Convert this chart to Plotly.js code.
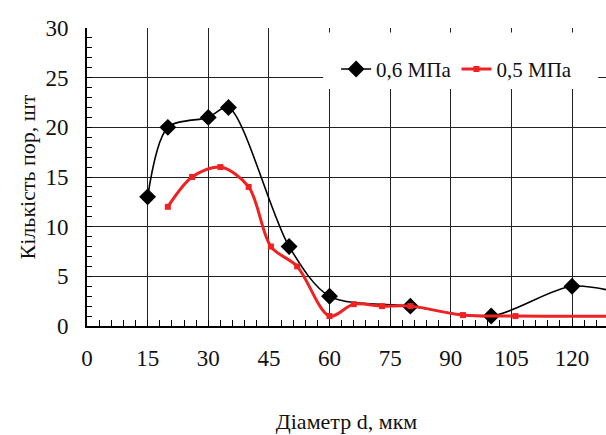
<!DOCTYPE html>
<html><head><meta charset="utf-8">
<script src="https://cdn.plot.ly/plotly-3.0.1.min.js"></script>
<style>html,body{margin:0;padding:0;background:#fff}#c{width:606px;height:435px}</style>
</head><body><div id="c"></div>
<script>
const x06 = [15, 20, 30, 35, 50, 60, 80, 100, 120, 135];
const y06 = [13, 20, 21, 22, 8, 3, 2, 1, 4, 3];
const x05 = [20, 26, 33, 40, 45.5, 52, 60, 66, 73, 80, 93, 106, 135];
const y05 = [12, 15, 16, 14, 8, 6, 1, 2.2, 2, 2, 1.1, 1, 1];
const name06 = '0,6 МПа';
const name05 = '0,5 МПа';
const xTicks = [0, 15, 30, 45, 60, 75, 90, 105, 120];
const yTicks = [0, 5, 10, 15, 20, 25, 30];

const font = 'Liberation Serif';
const xRange = [0, 128.4];
const yRange = [0, 30];
const traces = [
  {x: x06, y: y06, name: name06, type: 'scatter', mode: 'lines+markers',
   line: {color: '#000', width: 1.6, shape: 'spline', smoothing: 0.85},
   marker: {symbol: 'diamond', size: 13, color: '#000'}},
  {x: x05, y: y05, name: name05, type: 'scatter', mode: 'lines+markers',
   line: {color: '#ee2222', width: 3, shape: 'spline', smoothing: 0.9},
   marker: {symbol: 'square', size: 6, color: '#ee2222'}},
  {x: [], y: [], xaxis: 'x2', yaxis: 'y2', showlegend: false, hoverinfo: 'skip', type: 'scatter'}
];
const layout = {
  width: 606, height: 435,
  margin: {l: 87, r: 0, t: 28, b: 109},
  paper_bgcolor: '#fff', plot_bgcolor: '#fff',
  font: {family: font, color: '#111', size: 21},
  showlegend: true,
  legend: {orientation: 'h', x: 0.48, xanchor: 'left', y: 0.93, yanchor: 'top',
           bgcolor: 'rgba(0,0,0,0)', font: {family: font, size: 21, color: '#111'},
           traceorder: 'normal'},
  shapes: [{type: 'rect', xref: 'paper', yref: 'paper', x0: 0.455, x1: 0.985, y0: 0.795, y1: 0.985,
            fillcolor: '#fff', line: {width: 0}, layer: 'above'}],
  xaxis: {range: xRange, tickmode: 'array', tickvals: xTicks, ticktext: xTicks.map(String),
          showgrid: true, gridcolor: '#222', gridwidth: 1,
          showline: true, linecolor: '#000', linewidth: 2,
          ticks: 'outside', ticklen: 10, tickcolor: 'rgba(0,0,0,0)', zeroline: false,
          tickfont: {family: font, size: 23, color: '#111'},
          title: {text: 'Діаметр d, мкм', font: {family: font, size: 22, color: '#111'}, standoff: 44}},
  yaxis: {range: yRange, tickmode: 'array', tickvals: yTicks, ticktext: yTicks.map(String),
          showgrid: true, gridcolor: '#222', gridwidth: 1,
          showline: true, linecolor: '#000', linewidth: 2, mirror: true,
          ticks: 'outside', ticklen: 12, tickcolor: 'rgba(0,0,0,0)', zeroline: false,
          tickfont: {family: font, size: 23, color: '#111'},
          title: {text: 'Кількість пор, шт', font: {family: font, size: 22, color: '#111'}, standoff: 4}},
  xaxis2: {overlaying: 'x', anchor: 'y2', side: 'bottom', range: xRange, tickmode: 'linear', tick0: 0, dtick: 3,
           ticks: 'inside', ticklen: 6, tickwidth: 1, tickcolor: '#000',
           showticklabels: false, showgrid: false, zeroline: false, showline: false},
  yaxis2: {overlaying: 'y', anchor: 'x2', side: 'left', range: yRange, tickmode: 'linear', tick0: 0, dtick: 1,
           ticks: 'inside', ticklen: 5, tickwidth: 1, tickcolor: '#000',
           showticklabels: false, showgrid: false, zeroline: false, showline: false}
};
Plotly.newPlot('c', traces, layout, {displayModeBar: false, staticPlot: true});
</script></body></html>
